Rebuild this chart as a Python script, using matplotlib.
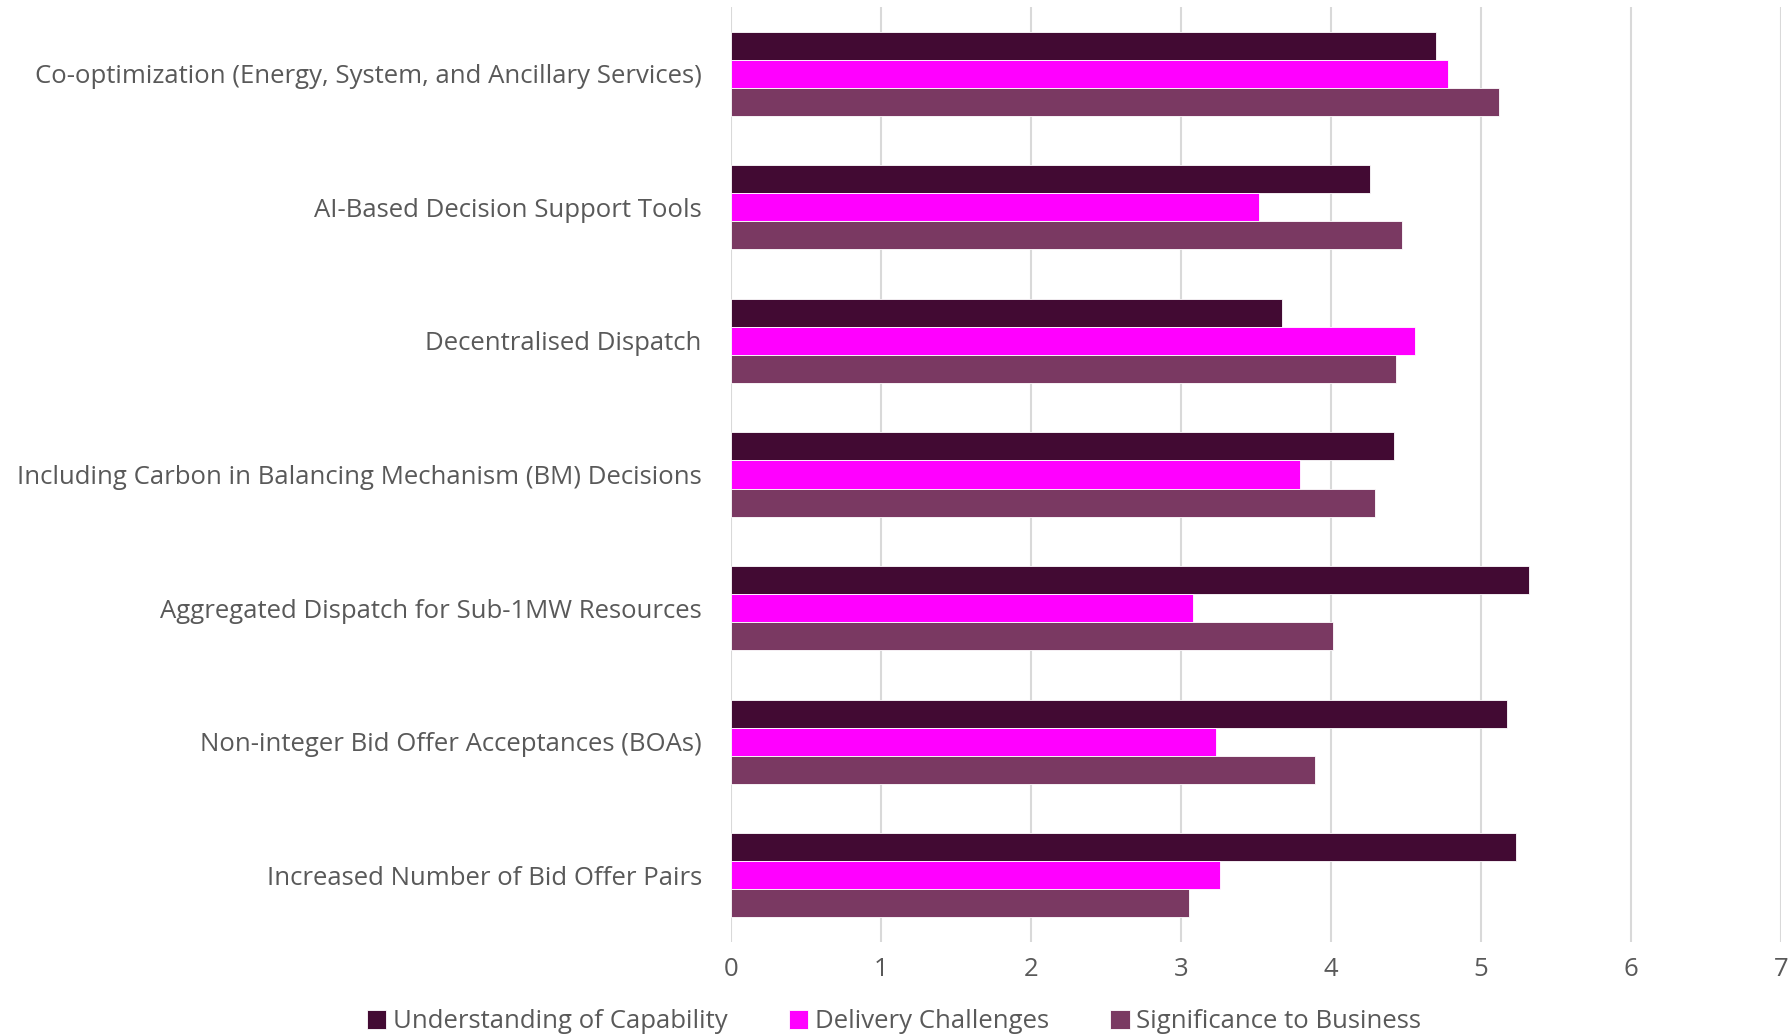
import matplotlib.pyplot as plt
import numpy as np

categories = [
    "Co-optimization (Energy, System, and Ancillary Services)",
    "AI-Based Decision Support Tools",
    "Decentralised Dispatch",
    "Including Carbon in Balancing Mechanism (BM) Decisions",
    "Aggregated Dispatch for Sub-1MW Resources",
    "Non-integer Bid Offer Acceptances (BOAs)",
    "Increased Number of Bid Offer Pairs",
]
understanding = [4.70, 4.26, 3.67, 4.42, 5.32, 5.17, 5.23]
delivery = [4.78, 3.52, 4.56, 3.79, 3.08, 3.23, 3.26]
significance = [5.12, 4.47, 4.43, 4.29, 4.01, 3.89, 3.05]

series_names = ["Understanding of Capability", "Delivery Challenges", "Significance to Business"]
colors = ["#420A33", "#FF00FF", "#7A3962"]

plt.rcParams['font.family'] = ['Open Sans', 'DejaVu Sans']
text_color = "#595959"

fig = plt.figure(figsize=(17.88, 10.36), dpi=100)
ax = fig.add_axes([731 / 1788, 1 - 942 / 1036, 1050 / 1788, 935 / 1036])

y = np.arange(len(categories))
h = 0.21
for i, (vals, name, c) in enumerate(zip([understanding, delivery, significance], series_names, colors)):
    ax.barh(y + (i - 1) * h, vals, height=h, color=c, label=name, zorder=3,
            edgecolor="white", linewidth=0.6)

ax.set_xlim(0, 7)
ax.set_ylim(len(categories) - 0.5, -0.5)
ax.set_xticks(range(8))
ax.set_yticks(y)
ax.set_yticklabels(categories)
ax.tick_params(axis='both', length=0, labelsize=18.5, colors=text_color)
ax.tick_params(axis='y', pad=21)
ax.tick_params(axis='x', pad=11)
ax.grid(axis='x', color="#D9D9D9", linewidth=1.5, zorder=0)
for s in ax.spines.values():
    s.set_visible(False)

ax.legend(loc='lower center', bbox_to_anchor=(0.5 * 1788 / 1050 - 731 / 1050, -0.118), ncol=3,
          frameon=False, fontsize=18.5, labelcolor=text_color, handlelength=0.75,
          handleheight=0.8, handletextpad=0.25, columnspacing=2.4, borderpad=0.2)

fig.savefig("out.png", dpi=100)
